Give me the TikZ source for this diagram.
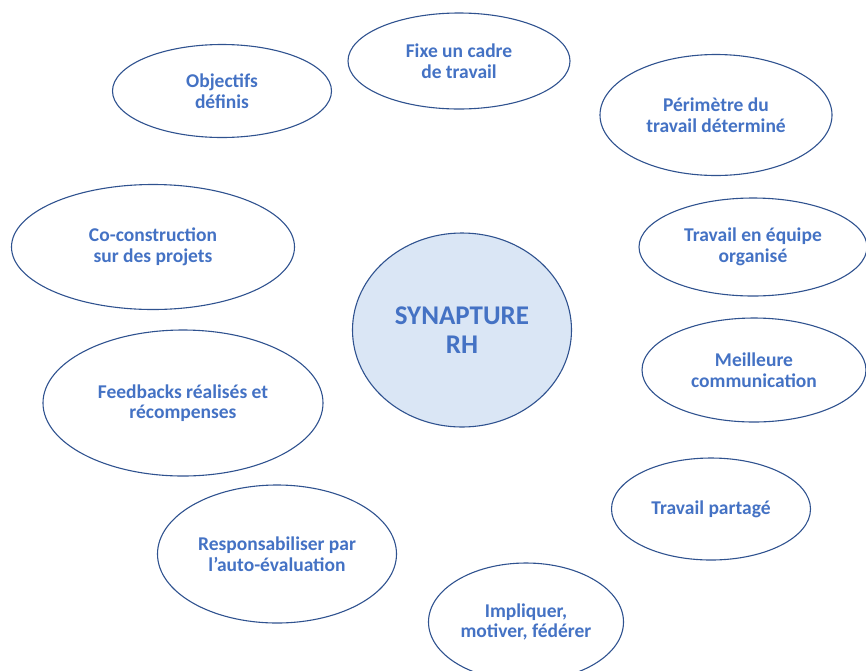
\documentclass[tikz,border=0pt]{standalone}
\usepackage{fontspec}
\setmainfont{Carlito}
\usetikzlibrary{shapes.geometric}
\definecolor{texteRH}{RGB}{68,114,196}
\definecolor{bordRH}{RGB}{47,82,143}
\definecolor{fondRH}{RGB}{218,230,245}

\begin{document}
\begin{tikzpicture}[x=1pt,y=-1pt,
    bulle/.style={draw=bordRH,line width=1.1pt,ellipse,inner sep=0pt,align=center,
      text=texteRH,font=\fontsize{19.5}{20.5}\selectfont\bfseries},
    centre/.style={bulle,fill=fondRH,font=\fontsize{27}{29}\selectfont\bfseries}]
  \useasboundingbox (0,0) rectangle (866,670);
  \clip (0,0) rectangle (866,670);
  \node[centre,minimum width=219,minimum height=194] (synapture) at (462,330) {SYNAPTURE\\RH};
  \node[bulle,minimum width=219,minimum height=93] (obj) at (222,91) {Objectifs\\définis};
  \node[bulle,minimum width=222,minimum height=96] (cadre) at (459,61) {Fixe un cadre\\de travail};
  \node[bulle,minimum width=232,minimum height=121] (perimetre) at (716,115) {Périmètre du\\travail déterminé};
  \node[bulle,minimum width=283,minimum height=125] (coconst) at (153,247) {Co-construction\\sur des projets};
  \node[bulle,minimum width=228,minimum height=98] (equipe) at (753,247) {Travail en équipe\\organisé};
  \node[bulle,minimum width=224,minimum height=104] (comm) at (754,370) {Meilleure\\communication};
  \node[bulle,minimum width=280,minimum height=146] (feedback) at (183,403) {Feedbacks réalisés et\\récompenses};
  \node[bulle,minimum width=199,minimum height=102] (partage) at (711,509) {Travail partagé};
  \node[bulle,minimum width=239,minimum height=138] (respons) at (277,554) {Responsabiliser par\\l’auto-évaluation};
  \node[bulle,minimum width=195,minimum height=118] (impliquer) at (526,622) {Impliquer,\\motiver, fédérer};
\end{tikzpicture}
\end{document}
